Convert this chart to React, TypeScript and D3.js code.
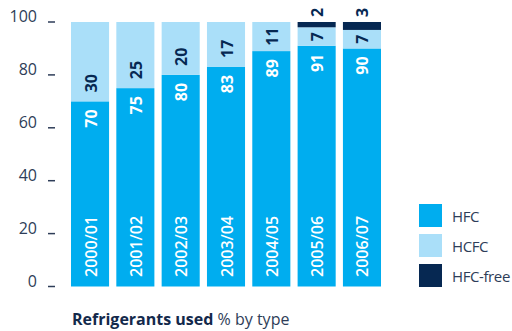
import React from "react";
import * as d3 from "d3";

const categories = ["2000/01", "2001/02", "2002/03", "2003/04", "2004/05", "2005/06", "2006/07"];
const hfc = [70, 75, 80, 83, 89, 91, 90];
const hcfc = [30, 25, 20, 17, 11, 7, 7];
const hfcFree = [0, 0, 0, 0, 0, 2, 3];
const yTicks = [0, 20, 40, 60, 80, 100];
const legendItems = ["HFC", "HCFC", "HFC-free"];

const C_HFC = "#00adef";
const C_HCFC = "#aadff9";
const C_FREE = "#062852";
const TXT = "#2e3d58";
const FONT = "'Open Sans', 'Noto Sans', sans-serif";

export default function App() {
  const W = 512, H = 331;
  const x = d3.scaleBand<string>().domain(categories).range([71, 381]).paddingInner(0.16).paddingOuter(0);
  const y = d3.scaleLinear().domain([0, 100]).range([286.5, 22]);
  const bw = x.bandwidth();
  const colors = [C_HFC, C_HCFC, C_FREE];

  return (
    <svg width={W} height={H} style={{ position: "absolute", left: 0, top: 0, fontFamily: FONT }}>
      {yTicks.map((t) => (
        <g key={t}>
          <text x={37} y={y(t)} textAnchor="end" fontSize={16} fill={TXT}>{t}</text>
          <line x1={48} x2={55} y1={y(t)} y2={y(t)} stroke={TXT} strokeWidth={1.5} />
        </g>
      ))}
      {categories.map((c, i) => {
        const x0 = x(c)!;
        const cx = x0 + bw / 2;
        const b1 = hfc[i];
        const b2 = hfc[i] + hcfc[i];
        const b3 = b2 + hfcFree[i];
        const hcfcTop = y(b2), hcfcBot = y(b1);
        const hcfcSmall = hcfcBot - hcfcTop < 30;
        return (
          <g key={c}>
            <rect x={x0} width={bw} y={y(b1)} height={y(0) - y(b1)} fill={C_HFC} />
            <rect x={x0} width={bw} y={y(b2)} height={y(b1) - y(b2)} fill={C_HCFC} />
            {hfcFree[i] > 0 && (
              <rect x={x0} width={bw} y={y(b3)} height={y(b2) - y(b3)} fill={C_FREE} />
            )}
            <text transform={`translate(${cx + 0.5},${y(0) - 9.5}) rotate(-90)`} textAnchor="start"
              dominantBaseline="central" fontSize={16} fontWeight={600} fill="#ffffff">{c}</text>
            <text transform={`translate(${cx + 0.5},${y(b1) + 8}) rotate(-90)`} textAnchor="end"
              dominantBaseline="central" fontSize={16} fontWeight={700} fill="#ffffff">{hfc[i]}</text>
            <text transform={`translate(${cx + 0.5},${hcfcSmall ? (hcfcTop + hcfcBot) / 2 : hcfcBot - 9}) rotate(-90)`}
              textAnchor={hcfcSmall ? "middle" : "start"} dominantBaseline="central" fontSize={16} fontWeight={700}
              fill={C_FREE}>{hcfc[i]}</text>
            {hfcFree[i] > 0 && (
              <text transform={`translate(${cx + 0.5},${y(b3) - 5}) rotate(-90)`} textAnchor="start"
                dominantBaseline="central" fontSize={16} fontWeight={700} fill={C_FREE}>{hfcFree[i]}</text>
            )}
          </g>
        );
      })}
      {legendItems.map((l, i) => (
        <g key={l}>
          <rect x={419} y={204 + i * 30} width={23} height={23} fill={colors[i]} />
          <text x={452} y={204 + i * 30 + 11.5} dominantBaseline="central" fontSize={15} letterSpacing={-0.4}
            fill={TXT}>{l}</text>
        </g>
      ))}
      <text x={72} y={325} fontSize={16} fill={TXT}>
        <tspan fontWeight={700} fill="#13294b">Refrigerants used</tspan>
        <tspan> % by type</tspan>
      </text>
    </svg>
  );
}
